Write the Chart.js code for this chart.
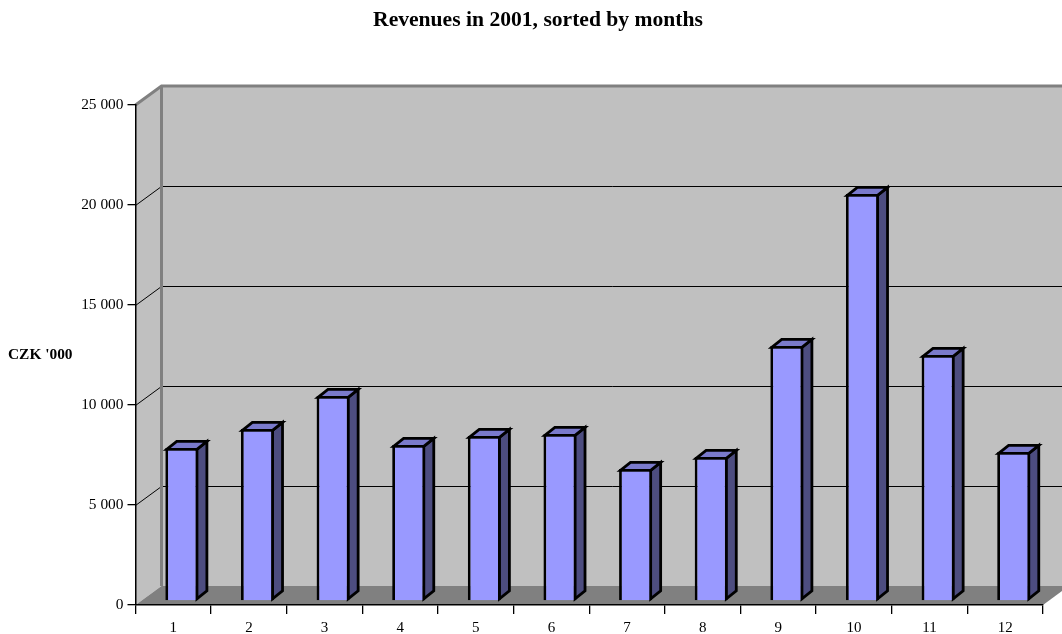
<!DOCTYPE html>
<html>
<head>
<meta charset="utf-8">
<title>Revenues in 2001</title>
<script src="https://cdn.jsdelivr.net/npm/chart.js@4/dist/chart.umd.min.js"></script>
<style>
  html, body { margin: 0; padding: 0; background: #fff; overflow: hidden; }
  canvas { display: block; }
</style>
</head>
<body>
<canvas id="myChart" width="1062" height="634"></canvas>
<script>
const months = ['1', '2', '3', '4', '5', '6', '7', '8', '9', '10', '11', '12'];
const revenues = [7650, 8600, 10250, 7800, 8250, 8350, 6600, 7200, 12750, 20350, 12300, 7450];
const yTicks = [0, 5000, 10000, 15000, 20000, 25000];

const serif = '"Liberation Serif", "Times New Roman", serif';

// fake 3D, the library has no such thing
const wallX = 26, wallY = -19;
const barShiftX = 8.5, barShiftY = -4;
const depthX = 10, depthY = -8;

const walls = {
  id: 'walls',
  beforeDraw(chart) {
    const c = chart.ctx, x = chart.scales.x, y = chart.scales.y;
    const l = x.left, r = x.right, b = y.getPixelForValue(0), t = y.getPixelForValue(25000);
    const far = chart.width + 10;

    c.save();
    // back wall and left wall
    c.fillStyle = '#c0c0c0';
    c.fillRect(l + wallX, t + wallY, far, b - t);
    c.beginPath();
    c.moveTo(l, b); c.lineTo(l, t); c.lineTo(l + wallX, t + wallY); c.lineTo(l + wallX, b + wallY);
    c.closePath();
    c.fill();

    // floor
    c.fillStyle = '#808080';
    c.beginPath();
    c.moveTo(l, b); c.lineTo(l + wallX, b + wallY); c.lineTo(r + wallX, b + wallY); c.lineTo(r, b);
    c.closePath();
    c.fill();

    // grid lines on both walls
    c.strokeStyle = '#000';
    c.lineWidth = 1;
    yTicks.slice(1, -1).forEach(v => {
      const py = Math.round(y.getPixelForValue(v)) + 0.5;
      c.beginPath();
      c.moveTo(l, py); c.lineTo(l + wallX, py + wallY); c.lineTo(far, py + wallY);
      c.stroke();
    });

    // wall frame
    c.strokeStyle = '#808080';
    c.lineWidth = 3;
    c.beginPath();
    c.moveTo(l, t); c.lineTo(l + wallX, t + wallY); c.lineTo(far, t + wallY);
    c.moveTo(l + wallX, t + wallY); c.lineTo(l + wallX, b + wallY);
    c.stroke();
    c.restore();

    // axis title sits horizontally, so it is not a scale title
    c.save();
    c.fillStyle = '#000';
    c.font = 'bold 15.4px ' + serif;
    c.textAlign = 'left';
    c.textBaseline = 'middle';
    c.fillText("CZK '000", 8, 355);
    c.restore();
  },
  beforeDatasetsDraw(chart) {
    const c = chart.ctx;
    c.save();
    c.translate(barShiftX, barShiftY);
    c.strokeStyle = '#000';
    c.lineWidth = 2.8;
    c.lineJoin = 'miter';
    chart.getDatasetMeta(0).data.forEach(bar => {
      const p = bar.getProps(['x', 'y', 'base', 'width'], true);
      const left = p.x - p.width / 2, right = p.x + p.width / 2;
      const inset = 1.4;
      const top = p.y + inset, base = p.base - inset, rx = right - inset, lx = left + inset;
      // side
      c.fillStyle = '#4d4d80';
      c.beginPath();
      c.moveTo(rx, top); c.lineTo(rx + depthX, top + depthY);
      c.lineTo(rx + depthX, base + depthY); c.lineTo(rx, base);
      c.closePath();
      c.fill(); c.stroke();
      // top
      c.fillStyle = '#7a7acc';
      c.beginPath();
      c.moveTo(lx, top); c.lineTo(lx + depthX, top + depthY);
      c.lineTo(rx + depthX, top + depthY); c.lineTo(rx, top);
      c.closePath();
      c.fill(); c.stroke();
    });
  },
  afterDatasetsDraw(chart) {
    chart.ctx.restore();
  }
};

new Chart(document.getElementById('myChart'), {
  type: 'bar',
  plugins: [walls],
  data: {
    labels: months,
    datasets: [{
      data: revenues,
      backgroundColor: '#9999ff',
      borderColor: '#000',
      borderWidth: 2.8,
      barPercentage: 0.436,
      categoryPercentage: 1,
      clip: false
    }]
  },
  options: {
    responsive: false,
    animation: false,
    layout: {
      autoPadding: false,
      padding: { left: 33, right: 19, top: 0, bottom: 0 }
    },
    plugins: {
      legend: { display: false },
      tooltip: { enabled: false },
      title: {
        display: true,
        text: 'Revenues in 2001, sorted by months',
        color: '#000',
        font: { family: serif, size: 21.6, weight: 'bold' },
        padding: { top: 7, bottom: 72 }
      }
    },
    scales: {
      x: {
        grid: { drawOnChartArea: false, color: '#000', tickLength: 9, lineWidth: 1.3 },
        border: { color: '#000', width: 1.5 },
        ticks: { color: '#000', font: { family: serif, size: 15 }, padding: 5, maxRotation: 0 },
        afterFit(scale) { scale.height = 29; }
      },
      y: {
        min: 0,
        max: 25000,
        grid: { drawOnChartArea: false, color: '#000', tickLength: 8, lineWidth: 1.3 },
        border: { color: '#000', width: 1.5 },
        ticks: {
          stepSize: 5000,
          color: '#000',
          font: { family: serif, size: 15.4 },
          padding: 4,
          callback: v => String(v).replace(/\B(?=(\d{3})+$)/g, ' ')
        },
        afterFit(scale) { scale.width = 102.5; }
      }
    }
  }
});
</script>
</body>
</html>
